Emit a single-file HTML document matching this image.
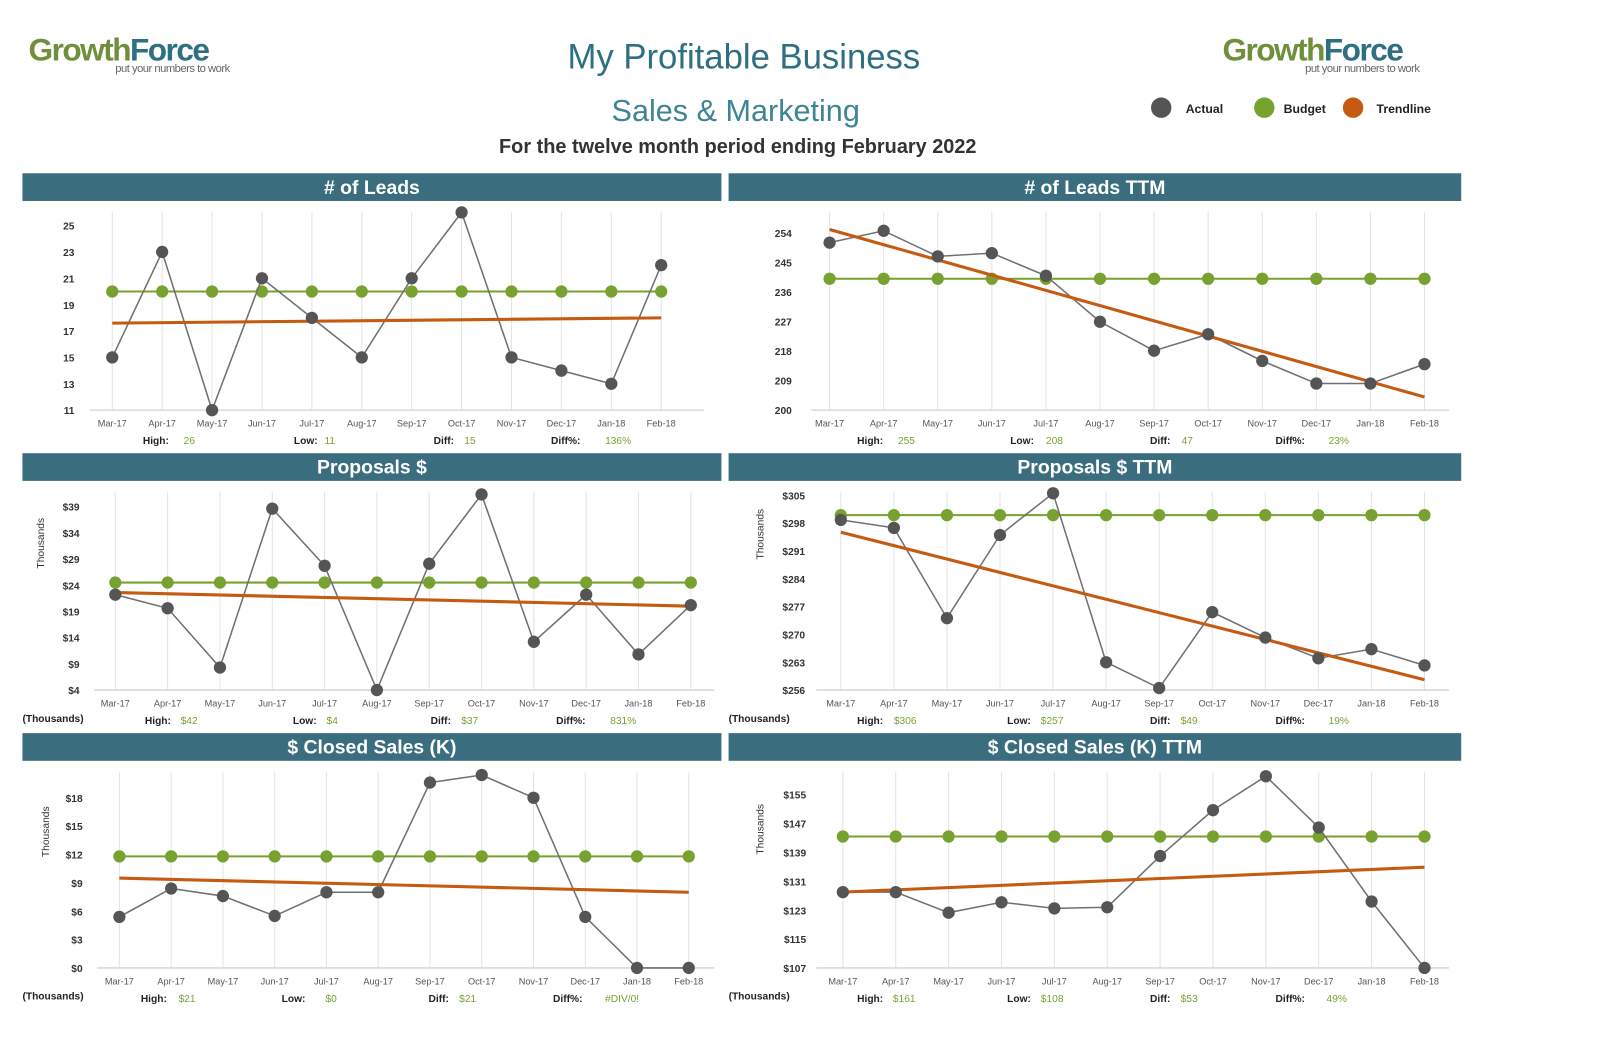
<!DOCTYPE html>
<html><head><meta charset="utf-8"><style>
html,body{margin:0;padding:0;background:#fff;width:1600px;height:1052px;overflow:hidden}
svg{display:block;font-family:"Liberation Sans",sans-serif}
</style></head><body>
<svg id="s" width="1600" height="1052" viewBox="0 0 1568 1026" preserveAspectRatio="none" xmlns="http://www.w3.org/2000/svg">
<g>
<text x="28" y="59" font-size="31" font-weight="bold" letter-spacing="-1.5"><tspan fill="#6f8f3d">Growth</tspan><tspan fill="#2f6f82">Force</tspan></text>
<text x="113" y="70" font-size="11" fill="#666" letter-spacing="-0.5">put your numbers to work</text></g>
<g>
<text x="1198" y="59" font-size="31" font-weight="bold" letter-spacing="-1.5"><tspan fill="#6f8f3d">Growth</tspan><tspan fill="#2f6f82">Force</tspan></text>
<text x="1279" y="70" font-size="11" fill="#666" letter-spacing="-0.5">put your numbers to work</text></g>
<text x="729" y="67" font-size="34" fill="#2f6f82" text-anchor="middle">My Profitable Business</text>
<text x="721" y="118" font-size="30" fill="#3d8595" text-anchor="middle">Sales &amp; Marketing</text>
<text x="723" y="149" font-size="19.5" font-weight="bold" fill="#333" text-anchor="middle">For the twelve month period ending February 2022</text>
<g font-size="12" font-weight="bold" fill="#222">
<circle cx="1138" cy="105" r="10" fill="#555"/><text x="1162" y="110">Actual</text>
<circle cx="1239" cy="105" r="10" fill="#77a22f"/><text x="1258" y="110">Budget</text>
<circle cx="1326" cy="105" r="10" fill="#c55a11"/><text x="1349" y="110">Trendline</text>
</g>
<g id="charts"></g>
</svg>
<script>
const months = ["Mar-17","Apr-17","May-17","Jun-17","Jul-17","Aug-17","Sep-17","Oct-17","Nov-17","Dec-17","Jan-18","Feb-18"];
// chart 1 # of Leads
const leadsActual = [15,23,11,21,18,15,21,26,15,14,13,22];
const leadsBudget = [20,20,20,20,20,20,20,20,20,20,20,20];
const leadsTrend = [17.6,18.0];
const leadsTicks = [11,13,15,17,19,21,23,25];
const leadsStats = ["26","11","15","136%"];
// chart 2 # of Leads TTM
const leadsTtmActual = [251,254.6,246.8,247.8,240.9,226.9,218.1,223.1,215,208.1,208.1,214];
const leadsTtmBudget = [240,240,240,240,240,240,240,240,240,240,240,240];
const leadsTtmTrend = [255,204];
const leadsTtmTicks = [200,209,218,227,236,245,254];
const leadsTtmStats = ["255","208","47","23%"];
// chart 3 Proposals $
const propActual = [22.2,19.6,8.3,38.6,27.7,4,28.1,41.3,13.2,22.2,10.8,20.2];
const propBudget = [24.5,24.5,24.5,24.5,24.5,24.5,24.5,24.5,24.5,24.5,24.5,24.5];
const propTrend = [22.6,20.0];
const propTicks = [4,9,14,19,24,29,34,39];
const propStats = ["$42","$4","$37","831%"];
// chart 4 Proposals $ TTM
const propTtmActual = [298.8,296.8,274.1,295,305.5,263,256.5,275.6,269.2,264,266.3,262.2];
const propTtmBudget = [300,300,300,300,300,300,300,300,300,300,300,300];
const propTtmTrend = [295.7,258.6];
const propTtmTicks = [256,263,270,277,284,291,298,305];
const propTtmStats = ["$306","$257","$49","19%"];
// chart 5 $ Closed Sales (K)
const closedActual = [5.4,8.4,7.6,5.5,8.0,8.0,19.6,20.4,18,5.4,0,0];
const closedBudget = [11.8,11.8,11.8,11.8,11.8,11.8,11.8,11.8,11.8,11.8,11.8,11.8];
const closedTrend = [9.5,8.0];
const closedTicks = [0,3,6,9,12,15,18];
const closedStats = ["$21","$0","$21","#DIV/0!"];
// chart 6 $ Closed Sales (K) TTM
const closedTtmActual = [128,128,122.3,125.2,123.5,123.8,138,150.7,160.1,145.9,125.4,107];
const closedTtmBudget = [143.4,143.4,143.4,143.4,143.4,143.4,143.4,143.4,143.4,143.4,143.4,143.4];
const closedTtmTrend = [128,134.9];
const closedTtmTicks = [107,115,123,131,139,147,155];
const closedTtmStats = ["$161","$108","$53","49%"];

const NS="http://www.w3.org/2000/svg";
const root=document.getElementById('charts');
function mk(tag,attrs,parent,txt){const e=document.createElementNS(NS,tag);for(const k in attrs)e.setAttribute(k,attrs[k]);if(txt!==undefined)e.textContent=txt;parent.appendChild(e);return e;}

const panels=[
 {title:"# of Leads",hx:22,hw:685,hy:169,x0:110,x1:648,ax0:88,ax1:690,base:400,top:220,actual:leadsActual,budget:leadsBudget,trend:leadsTrend,ticks:leadsTicks,stats:leadsStats,pre:"",tx:73,thou:false,st:[140,180,288,318,425,455,540,593]},
 {title:"# of Leads TTM",hx:714,hw:718,hy:169,x0:813,x1:1396,ax0:795,ax1:1420,base:400,top:227,actual:leadsTtmActual,budget:leadsTtmBudget,trend:leadsTtmTrend,ticks:leadsTtmTicks,stats:leadsTtmStats,pre:"",tx:776,thou:false,st:[840,880,990,1025,1127,1158,1250,1302]},
 {title:"Proposals $",hx:22,hw:685,hy:442,x0:113,x1:677,ax0:92,ax1:700,base:673,top:494,actual:propActual,budget:propBudget,trend:propTrend,ticks:propTicks,stats:propStats,pre:"$",tx:78,thou:true,tl:43,st:[142,177,287,320,422,452,545,598]},
 {title:"Proposals $ TTM",hx:714,hw:718,hy:442,x0:824,x1:1396,ax0:800,ax1:1420,base:673,top:483,actual:propTtmActual,budget:propTtmBudget,trend:propTtmTrend,ticks:propTtmTicks,stats:propTtmStats,pre:"$",tx:789,thou:true,tl:748,st:[840,876,987,1020,1127,1157,1250,1302]},
 {title:"$ Closed Sales (K)",hx:22,hw:685,hy:715,x0:117,x1:675,ax0:95,ax1:700,base:944,top:778,actual:closedActual,budget:closedBudget,trend:closedTrend,ticks:closedTicks,stats:closedStats,pre:"$",tx:81,thou:true,tl:48,st:[138,175,276,319,420,450,542,593]},
 {title:"$ Closed Sales (K) TTM",hx:714,hw:718,hy:715,x0:826,x1:1396,ax0:800,ax1:1420,base:944,top:775,actual:closedTtmActual,budget:closedTtmBudget,trend:closedTtmTrend,ticks:closedTtmTicks,stats:closedTtmStats,pre:"$",tx:790,thou:true,tl:748,st:[840,875,987,1020,1127,1157,1250,1300]}
];

panels.forEach((p,pi)=>{
 const g=mk('g',{},root);
 
 
 const hdr=mk('rect',{x:p.hx,y:p.hy,width:p.hw,height:27,fill:'#3a6e7e'},g);
 
 
 const ht=mk('text',{x:p.hx+p.hw/2,y:p.hy+20,'font-size':19,'font-weight':'bold',fill:'#fff','text-anchor':'middle'},g,p.title);
 
 
 const vmin=p.ticks[0],vmax=p.ticks[p.ticks.length-1];
 const ys=v=>p.base-(v-vmin)/(vmax-vmin)*(p.base-p.top);
 const xs=i=>p.x0+i*(p.x1-p.x0)/(months.length-1);
 months.forEach((m,i)=>{
  const gl=mk('line',{x1:xs(i),x2:xs(i),y1:p.hy+38,y2:p.base,stroke:'#e3e3e3','stroke-width':1},g);
  
  
  const xl=mk('text',{x:xs(i),y:p.base+16,'font-size':9,fill:'#555','text-anchor':'middle'},g,m);
  
  
 });
 const ax=mk('line',{x1:p.ax0,x2:p.ax1,y1:p.base,y2:p.base,stroke:'#d9d9d9','stroke-width':1.5},g);
 
 
 p.ticks.forEach(t=>{
  const tl=mk('text',{x:p.tx,y:ys(t)+4,'font-size':10,'font-weight':'bold',fill:'#333','text-anchor':'end'},g,p.pre+t);
  
  
 });
 if(p.thou){
  const cy=p.top+(p.base-p.top)*0.2;
  const yt=mk('text',{x:0,y:0,'font-size':10,fill:'#333','text-anchor':'middle',transform:`translate(${p.tl},${cy}) rotate(-90)`},g,'Thousands');
  
  
  const bt=mk('text',{x:p.hx,y:p.base+31,'font-size':10,'font-weight':'bold',fill:'#222'},g,'(Thousands)');
  
  
 }
 const bl=mk('polyline',{points:p.budget.map((v,i)=>xs(i)+','+ys(v)).join(' '),fill:'none',stroke:'#77a22f','stroke-width':2},g);
 
 
 p.budget.forEach((v,i)=>{
  const c=mk('circle',{cx:xs(i),cy:ys(v),r:6,fill:'#77a22f'},g);
  
  
 });
 const al=mk('polyline',{points:p.actual.map((v,i)=>xs(i)+','+ys(v)).join(' '),fill:'none',stroke:'#707070','stroke-width':1.5},g);
 
 
 const tr=mk('line',{x1:xs(0),y1:ys(p.trend[0]),x2:xs(months.length-1),y2:ys(p.trend[1]),stroke:'#c55a11','stroke-width':3},g);
 
 
 p.actual.forEach((v,i)=>{
  const c=mk('circle',{cx:xs(i),cy:ys(v),r:6,fill:'#555'},g);
  
  
 });
 const labels=["High:","Low:","Diff:","Diff%:"];
 const sy=p.base+33;
 labels.forEach((l,k)=>{
  const a=mk('text',{x:p.st[k*2],y:sy,'font-size':10,'font-weight':'bold',fill:'#222'},g,l);
  
  
  const b=mk('text',{x:p.st[k*2+1],y:sy,'font-size':10,fill:'#77a22f'},g,p.stats[k]);
  
  
 });
});
</script>
</body></html>
